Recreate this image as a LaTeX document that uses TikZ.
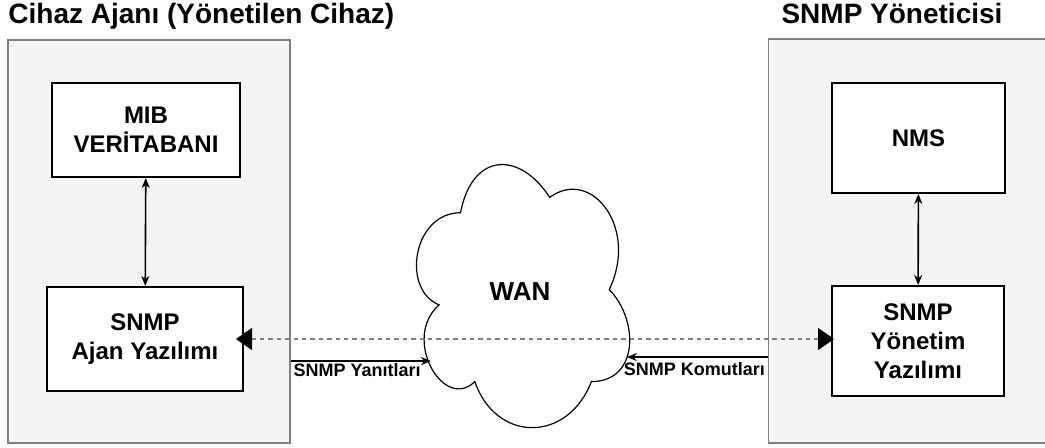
\documentclass[tikz,border=0pt]{standalone}
\usepackage{fontspec}
\setmainfont{Liberation Sans}
\usetikzlibrary{arrows.meta}
\definecolor{panelfill}{HTML}{F4F4F4}
\definecolor{paneldraw}{HTML}{808080}
\definecolor{pollgray}{HTML}{7F7F7F}

\begin{document}
\begin{tikzpicture}[x=0.5pt,y=-0.5pt,
  panel/.style={draw=paneldraw,fill=panelfill,line width=0.8pt,inner sep=0pt},
  block/.style={draw=black,fill=white,line width=1pt,align=center,inner sep=0pt,
    font=\fontsize{12}{14.5}\selectfont\bfseries},
  heading/.style={inner sep=0pt,font=\fontsize{14}{17}\selectfont\bfseries},
  msg/.style={inner sep=1pt,font=\fontsize{9}{11}\selectfont\bfseries},
  link/.style={line width=0.8pt,arrows={Stealth[length=5pt,width=4pt]-Stealth[length=5pt,width=4pt]}},
  msgarrow/.style={line width=0.8pt,arrows={-Stealth[length=5pt,width=4pt]}},
  poll/.style={draw=pollgray,line width=0.8pt,dash pattern=on 2.2pt off 2pt,
    arrows={Triangle[length=8pt,width=11pt,color=black]-Triangle[length=8pt,width=11pt,color=black]}}]
\useasboundingbox (0,0) rectangle (1045,448);

% agent side
\node[panel,minimum width=141pt,minimum height=201.5pt] (agent) at (149,241.5) {};
\node[heading,anchor=base west] (agenttitle) at (8,24) {Cihaz Ajanı (Yönetilen Cihaz)};
\node[block,minimum width=94pt,minimum height=47pt] (mib) at (146,130) {MIB\\VERİTABANI};
\node[block,minimum width=98pt,minimum height=52pt] (ajan) at (145,339) {SNMP\\Ajan Yazılımı};

% manager side
\node[panel,minimum width=141pt,minimum height=202pt] (manager) at (909.5,241) {};
\node[heading,anchor=base] (managertitle) at (892,24) {SNMP Yöneticisi};
\node[block,minimum width=86.5pt,minimum height=55pt] (nms) at (918.5,138) {NMS};
\node[block,minimum width=86pt,minimum height=55pt] (yonetim) at (918,341) {SNMP\\Yönetim\\Yazılımı};

% WAN cloud
\begin{scope}[shift={(401,136)},xscale=238,yscale=307]
\draw[line width=0.6pt,fill=white] (0.25,0.25)
  .. controls (0.05,0.25) and (0,0.5) .. (0.16,0.55)
  .. controls (0,0.66) and (0.18,0.9) .. (0.31,0.8)
  .. controls (0.4,1) and (0.7,1) .. (0.8,0.8)
  .. controls (1,0.8) and (1,0.6) .. (0.875,0.5)
  .. controls (1,0.3) and (0.8,0.1) .. (0.625,0.2)
  .. controls (0.5,0.05) and (0.3,0.05) .. (0.25,0.25) -- cycle;
\coordinate (wanw) at (0.126,0.733);
\coordinate (wane) at (0.949,0.72);
\end{scope}
\node[inner sep=0pt,font=\fontsize{13}{15}\selectfont\bfseries] (wan) at (520,292) {WAN};

% connectors
\draw[link] (mib) -- (ajan);
\draw[link] (nms) -- (yonetim);
\draw[poll,shorten <=-4pt,shorten >=-1.5pt] (ajan.east) -- (ajan.east -| yonetim.west);
\draw[msgarrow] (agent.east |- wanw) -- (wanw)
  node[msg,pos=0,anchor=north west] {SNMP Yanıtları};
\draw[msgarrow] (manager.west |- wane) -- (wane)
  node[msg,pos=0,anchor=north east,yshift=-1.5pt] {SNMP Komutları};
\end{tikzpicture}
\end{document}
